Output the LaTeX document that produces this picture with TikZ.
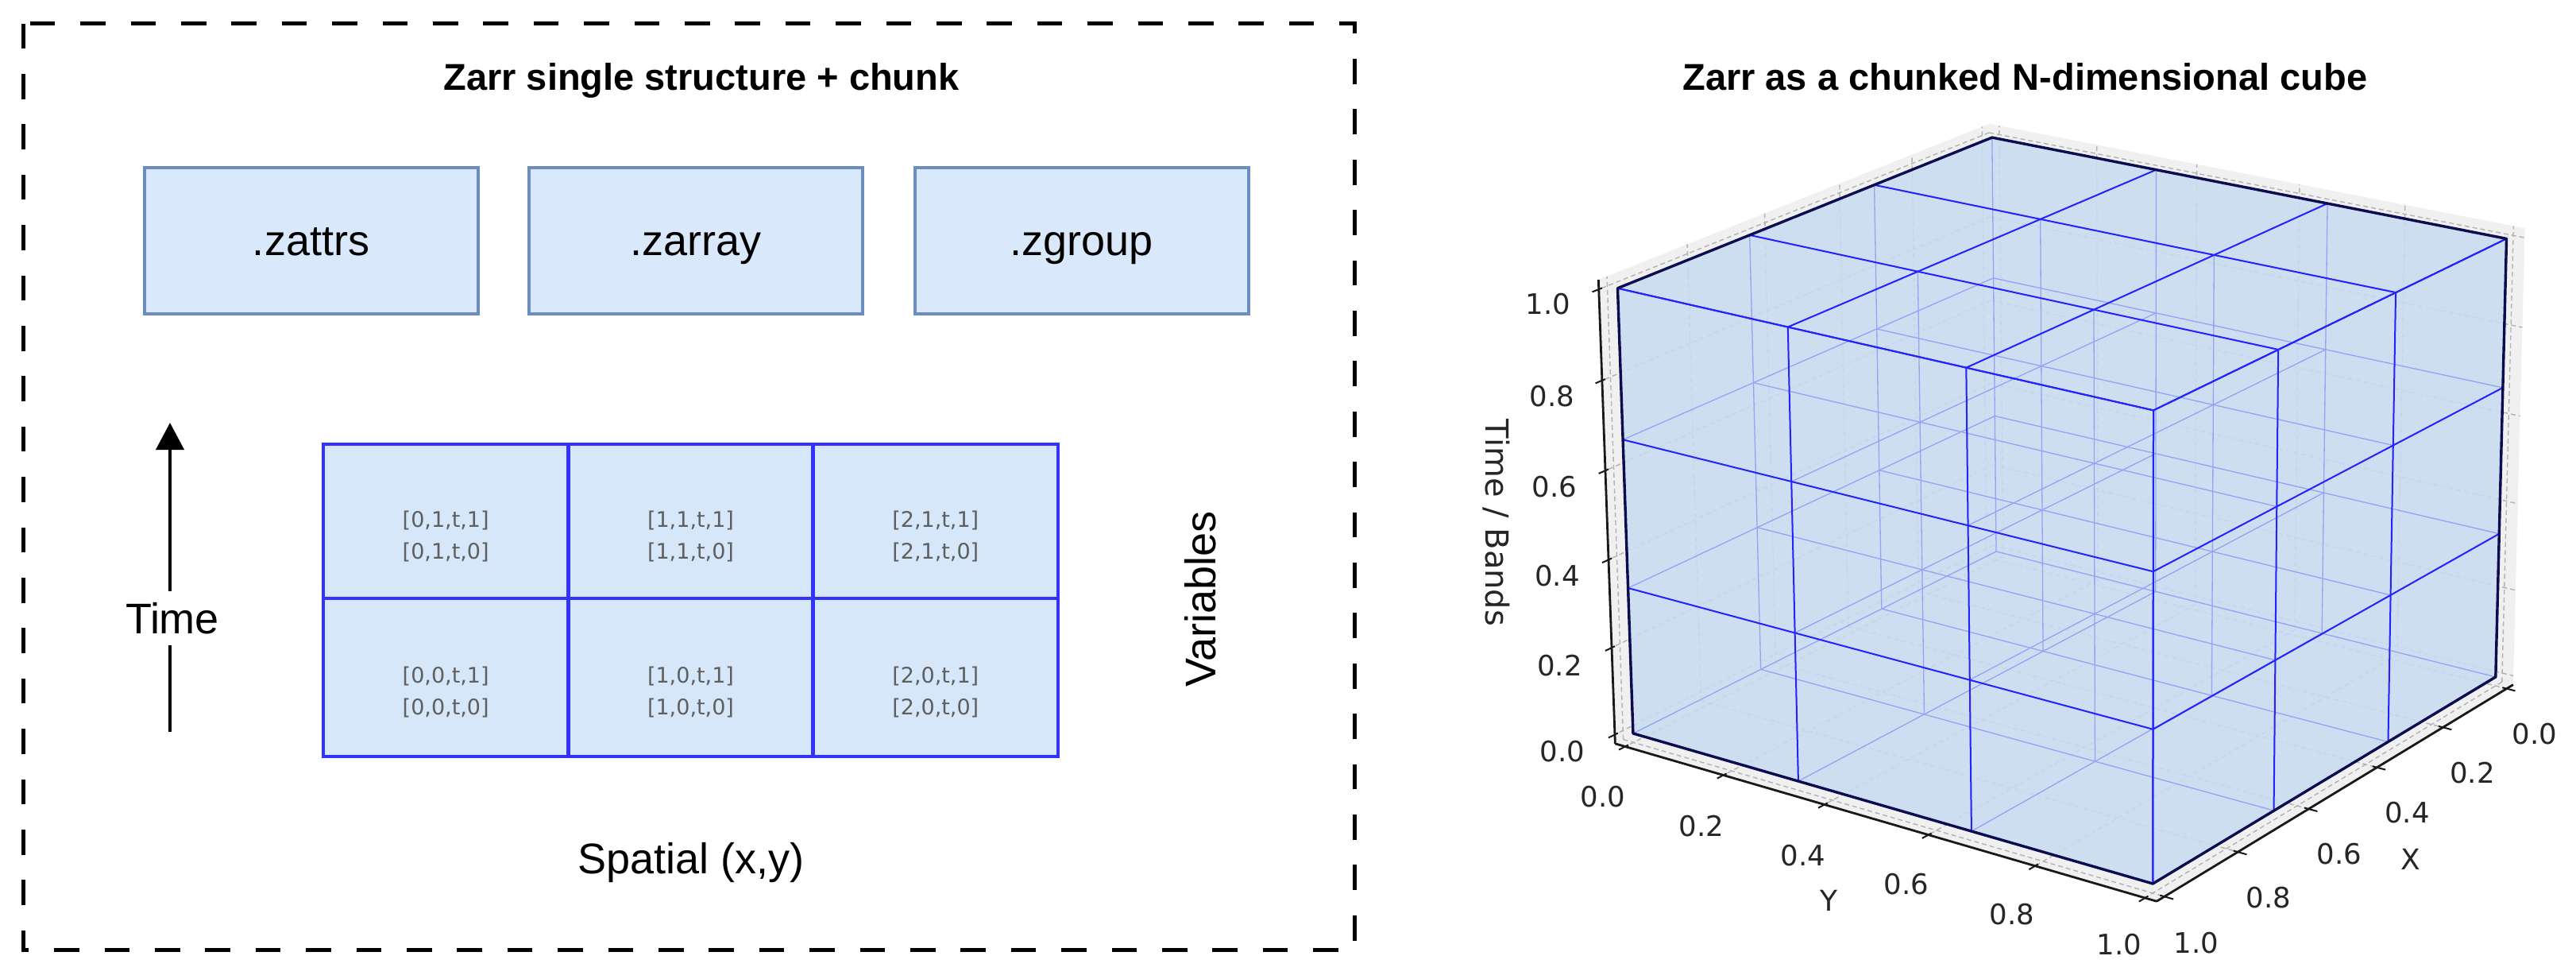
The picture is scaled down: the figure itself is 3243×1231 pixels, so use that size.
\documentclass[tikz,border=0pt]{standalone}
\usepackage{fontspec}
\setmainfont{Liberation Sans}
\newfontfamily\dvs{DejaVu Sans}
\usetikzlibrary{arrows.meta}
\definecolor{boxfill}{RGB}{218,232,252}
\definecolor{boxline}{RGB}{108,142,191}
\definecolor{gridfill}{RGB}{213,231,249}
\definecolor{gridblue}{RGB}{51,51,255}
\definecolor{celltext}{RGB}{95,95,95}
\definecolor{panefill}{RGB}{240,240,240}
\definecolor{panegridc}{RGB}{178,178,178}
\definecolor{cubefillc}{RGB}{200,220,241}
\definecolor{strongc}{RGB}{35,35,255}
\definecolor{faintc}{RGB}{150,162,246}
\definecolor{silhc}{RGB}{12,12,80}
\newcommand\cpx[3]{((2513-620.25*(#1)+434.8*(#2)-73.7*(#3))/(1-0.0794*(#1)-0.0618*(#2)-0.0274*(#3)))}
\newcommand\cpy[3]{((694+155.7*(#1)+105.3*(#2)-525.7*(#3))/(1-0.0794*(#1)-0.0618*(#2)-0.0274*(#3)))}
\newcommand\cubept[3]{({\cpx{#1}{#2}{#3}},{\cpy{#1}{#2}{#3}})}
\def\mm{0.020833}
\tikzset{
  dashbox/.style={draw=black, line width=2.5pt, dash pattern=on 15.85pt off 15.85pt},
  ttl/.style={font=\fontsize{23.5}{28}\selectfont\bfseries, inner sep=0pt},
  metabox/.style={draw=boxline, fill=boxfill, line width=2pt, minimum width=210pt,
    minimum height=92.25pt, inner sep=0pt, font=\fontsize{27}{32}\selectfont,
    text height=20pt, text depth=1pt},
  biglbl/.style={font=\fontsize{27}{32}\selectfont, inner sep=0pt},
  cellbox/.style={draw=gridblue, fill=gridfill, line width=2.4pt, minimum width=154.17pt, inner sep=0pt},
  celltxt/.style={font=\dvs\fontsize{13.5}{20}\selectfont, text=celltext, align=center, inner sep=0pt},
  tarrow/.style={line width=2.15pt, -{Triangle[length=17pt,width=17.5pt]}},
  tline/.style={line width=2.15pt},
  panegrid/.style={draw=panegridc, line width=0.7pt, dash pattern=on 3pt off 2pt},
  axisline/.style={draw=black!90, line width=1.4pt},
  tickline/.style={draw=black!90, line width=1pt},
  cbfaint/.style={draw=faintc, line width=0.65pt},
  cbstrong/.style={draw=strongc, line width=1pt},
  cbsilh/.style={draw=silhc, line width=1.7pt, line join=round},
  ticklbl/.style={font=\dvs\fontsize{17.75}{20}\selectfont, text=black!85, inner sep=0pt},
  axlbl/.style={font=\dvs\fontsize{18}{20}\selectfont, text=black!85, inner sep=0pt},
}
\begin{document}
\begin{tikzpicture}[x=0.5pt,y=-0.5pt]
\useasboundingbox (0,0) rectangle (3243,1231);
\fill[white] (0,0) rectangle (3243,1231);

% ---------------- left panel ----------------
\draw[dashbox] (29,29.5) rectangle (1705,1195);
\node[ttl, anchor=base] (lefttitle) at (883,113) {Zarr single structure + chunk};

\node[metabox] (zattrs) at (391.5,302.75) {.zattrs};
\node[metabox] (zarray) at (876,302.75) {.zarray};
\node[metabox] (zgroup) at (1361.5,302.75) {.zgroup};

% chunk grid
\node[cellbox, minimum height=97pt] (c01) at (561.2,656) {};
\node[cellbox, minimum height=97pt] (c11) at (869.5,656) {};
\node[cellbox, minimum height=97pt] (c21) at (1177.8,656) {};
\node[cellbox, minimum height=99.5pt] (c00) at (561.2,852.5) {};
\node[cellbox, minimum height=99.5pt] (c10) at (869.5,852.5) {};
\node[cellbox, minimum height=99.5pt] (c20) at (1177.8,852.5) {};
\node[celltxt] (t01) at (561.2,675) {[0,1,t,1]\\{}[0,1,t,0]};
\node[celltxt] (t11) at (869.5,675) {[1,1,t,1]\\{}[1,1,t,0]};
\node[celltxt] (t21) at (1177.8,675) {[2,1,t,1]\\{}[2,1,t,0]};
\node[celltxt] (t00) at (561.2,871) {[0,0,t,1]\\{}[0,0,t,0]};
\node[celltxt] (t10) at (869.5,871) {[1,0,t,1]\\{}[1,0,t,0]};
\node[celltxt] (t20) at (1177.8,871) {[2,0,t,1]\\{}[2,0,t,0]};

% time arrow
\coordinate (tbot) at (214,921);
\coordinate (ttop) at (214,532);
\node[biglbl, inner xsep=2pt, inner ysep=7.3pt, text height=19.3pt, text depth=0pt] (time) at (217,778) {Time};
\draw[tarrow] (ttop |- time.north) -- (ttop);
\draw[tline] (tbot) -- (tbot |- time.south);

\node[biglbl, rotate=90] (vars) at (1511,754) {Variables};
\node[biglbl, anchor=base] (spatial) at (870,1099) {Spatial (x,y)};

% ---------------- right panel ----------------
\node[ttl, anchor=base west] (righttitle) at (2118,113) {Zarr as a chunked N-dimensional cube};

% panes
\fill[panefill] \cubept{-\mm}{-\mm}{-\mm} -- \cubept{1+\mm}{-\mm}{-\mm} -- \cubept{1+\mm}{-\mm}{1+\mm} -- \cubept{-\mm}{-\mm}{1+\mm} -- cycle;
\fill[panefill] \cubept{-\mm}{-\mm}{-\mm} -- \cubept{-\mm}{1+\mm}{-\mm} -- \cubept{-\mm}{1+\mm}{1+\mm} -- \cubept{-\mm}{-\mm}{1+\mm} -- cycle;
\fill[panefill] \cubept{-\mm}{-\mm}{-\mm} -- \cubept{1+\mm}{-\mm}{-\mm} -- \cubept{1+\mm}{1+\mm}{-\mm} -- \cubept{-\mm}{1+\mm}{-\mm} -- cycle;

% pane grid lines
\foreach \t in {0,0.2,0.4,0.6,0.8,1}{
  \draw[panegrid] \cubept{\t}{-\mm}{-\mm} -- \cubept{\t}{-\mm}{1+\mm};
  \draw[panegrid] \cubept{-\mm}{-\mm}{\t} -- \cubept{1+\mm}{-\mm}{\t};
  \draw[panegrid] \cubept{-\mm}{\t}{-\mm} -- \cubept{-\mm}{\t}{1+\mm};
  \draw[panegrid] \cubept{-\mm}{-\mm}{\t} -- \cubept{-\mm}{1+\mm}{\t};
  \draw[panegrid] \cubept{\t}{-\mm}{-\mm} -- \cubept{\t}{1+\mm}{-\mm};
  \draw[panegrid] \cubept{-\mm}{\t}{-\mm} -- \cubept{1+\mm}{\t}{-\mm};
}

% axes
\draw[axisline] \cubept{1+\mm}{-\mm}{-\mm} -- \cubept{1+\mm}{-\mm}{1+\mm};
\draw[axisline] \cubept{1+\mm}{-\mm}{-\mm} -- \cubept{1+\mm}{1+\mm}{-\mm};
\draw[axisline] \cubept{-\mm}{1+\mm}{-\mm} -- \cubept{1+\mm}{1+\mm}{-\mm};
\foreach \t in {0,0.2,0.4,0.6,0.8,1}{
  \draw[tickline] \cubept{1+\mm-0.008}{-\mm}{\t} -- \cubept{1+\mm+0.016}{-\mm}{\t};
  \draw[tickline] \cubept{1+\mm-0.008}{\t}{-\mm} -- \cubept{1+\mm+0.016}{\t}{-\mm};
  \draw[tickline] \cubept{\t}{1+\mm-0.008}{-\mm} -- \cubept{\t}{1+\mm+0.016}{-\mm};
}

% cube body
\path \cubept{1}{0}{1} coordinate (TL) \cubept{0}{0}{1} coordinate (TB)
      \cubept{0}{1}{1} coordinate (TR) \cubept{0}{1}{0} coordinate (BR)
      \cubept{1}{1}{0} coordinate (BF) \cubept{1}{0}{0} coordinate (BL);
\fill[cubefillc, fill opacity=0.88] (TL) -- (TB) -- (TR) -- (BR) -- (BF) -- (BL) -- cycle;

% hidden chunk edges
\foreach \a in {0,1,2,3}{
  \foreach \b in {0,1,2,3}{
    \draw[cbfaint] \cubept{0}{\a/3}{\b/3} -- \cubept{1}{\a/3}{\b/3};
    \draw[cbfaint] \cubept{\a/3}{0}{\b/3} -- \cubept{\a/3}{1}{\b/3};
    \draw[cbfaint] \cubept{\a/3}{\b/3}{0} -- \cubept{\a/3}{\b/3}{1};
  }
}
% visible chunk edges
\foreach \a in {0,1,2,3}{
  \draw[cbstrong] \cubept{0}{\a/3}{1} -- \cubept{1}{\a/3}{1};
  \draw[cbstrong] \cubept{\a/3}{0}{1} -- \cubept{\a/3}{1}{1};
  \draw[cbstrong] \cubept{1}{0}{\a/3} -- \cubept{1}{1}{\a/3};
  \draw[cbstrong] \cubept{1}{\a/3}{0} -- \cubept{1}{\a/3}{1};
  \draw[cbstrong] \cubept{0}{1}{\a/3} -- \cubept{1}{1}{\a/3};
  \draw[cbstrong] \cubept{\a/3}{1}{0} -- \cubept{\a/3}{1}{1};
}
\draw[cbsilh] (TL) -- (TB) -- (TR) -- (BR) -- (BF) -- (BL) -- cycle;

% tick labels
\foreach \v/\px/\py [count=\i] in {1.0/1949/383, 0.8/1954/499, 0.6/1957/613, 0.4/1960.5/725, 0.2/1963.5/837.5, 0.0/1967/946}{
  \node[ticklbl] (zl\i) at (\px,\py) {\v};
}
\foreach \v/\px/\py [count=\i] in {0.0/2018/1003, 0.2/2142/1040, 0.4/2270/1077, 0.6/2400/1113, 0.8/2533/1151, 1.0/2668/1189}{
  \node[ticklbl] (yl\i) at (\px,\py) {\v};
}
\foreach \v/\px/\py [count=\i] in {0.0/3191/924, 0.2/3112.5/973, 0.4/3030.5/1022.5, 0.6/2945/1075, 0.8/2856/1130, 1.0/2765/1187}{
  \node[ticklbl] (xl\i) at (\px,\py) {\v};
}
\node[axlbl] (ylab) at (2302.5,1133) {Y};
\node[axlbl] (xlab) at (3035,1081) {X};
\node[axlbl, font=\dvs\fontsize{20}{22}\selectfont, rotate=-90] (zlab) at (1884,658) {Time / Bands};
\end{tikzpicture}
\end{document}
